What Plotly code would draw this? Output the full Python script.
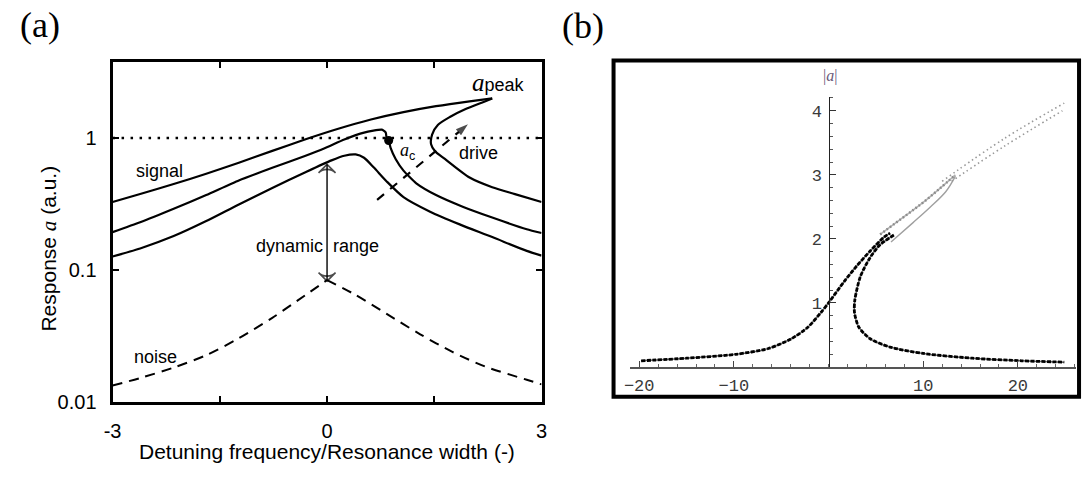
import plotly.graph_objects as go

W, H = 1088, 477


def px(x):
    return x / W


def py(y):
    return 1 - y / H


# ---------------- Panel (a) data ----------------
sig_hi_up_x = [-3.0, -2.614, -2.145, -1.690, -1.234, -0.766, -0.310, 0.145, 0.614, 1.069, 1.524, 1.993, 2.310]
sig_hi_up_y = [0.327, 0.376, 0.447, 0.535, 0.649, 0.798, 0.973, 1.169, 1.380, 1.570, 1.742, 1.897, 1.995]
sig_hi_dn_x = [2.310, 2.172, 1.938, 1.717, 1.552, 1.469, 1.455, 1.510, 1.648, 1.993, 2.310, 2.628, 3.0]
sig_hi_dn_y = [1.995, 1.862, 1.656, 1.442, 1.259, 1.062, 0.895, 0.794, 0.693, 0.501, 0.423, 0.375, 0.327]

sig_mid_x = [-3.0, -2.614, -2.145, -1.690, -1.234, -0.766, -0.310, -0.034, 0.241, 0.517, 0.766, 0.821, 0.834,
             0.862, 0.890, 0.959, 1.069, 1.248, 1.524, 1.897, 2.310, 2.793, 3.0]
sig_mid_y = [0.193, 0.229, 0.290, 0.369, 0.476, 0.594, 0.730, 0.836, 0.975, 1.099, 1.156, 1.099, 0.991,
             0.957, 0.836, 0.693, 0.565, 0.453, 0.369, 0.301, 0.249, 0.203, 0.190]

sig_lo_x = [-3.0, -2.614, -2.145, -1.690, -1.234, -0.766, -0.310, 0.062, 0.241, 0.400, 0.517, 0.655,
            0.834, 1.069, 1.441, 1.855, 2.310, 2.793, 3.0]
sig_lo_y = [0.126, 0.145, 0.180, 0.234, 0.313, 0.417, 0.547, 0.676, 0.733, 0.750, 0.708, 0.596,
            0.468, 0.356, 0.276, 0.221, 0.177, 0.139, 0.128]

noise_l_x = [-3.0, -2.614, -2.145, -1.690, -1.234, -0.766, -0.310, 0.0]
noise_l_y = [0.01324, 0.01507, 0.01811, 0.02249, 0.03020, 0.04315, 0.06383, 0.08356]
noise_r_x = [0.0, 0.379, 0.834, 1.303, 1.759, 2.214, 2.793, 3.0]
noise_r_y = [0.08356, 0.06531, 0.04624, 0.03236, 0.02371, 0.01841, 0.01462, 0.01349]

ref_x = [-3.0, 3.0]
ref_y = [1.0, 1.0]

crit_x = [0.862]
crit_y = [0.957]

a_ticks = [0.01, 0.1, 1]
a_ticktext = ["0.01", "0.1", "1"]
a_xticks = [-3, 0, 3]
a_xticktext = ["-3", "0", "3"]
a_xminor = [-1.5, 1.5]

# ---------------- Panel (b) data ----------------
blk_up_x = [-19.8, -15.0, -9.8, -6.35, -3.93, -2.19, -0.8, 0.0, 1.63, 3.0, 4.4, 5.8, 6.5]
blk_up_y = [0.096, 0.136, 0.197, 0.288, 0.44, 0.62, 0.85, 1.0, 1.33, 1.58, 1.81, 2.02, 2.09]
blk_lo_x = [6.9, 5.45, 4.4, 3.36, 2.78, 2.74, 3.2, 4.4, 6.5, 10.0, 15.2, 20.4, 24.9]
blk_lo_y = [2.06, 1.91, 1.71, 1.41, 1.05, 0.85, 0.62, 0.44, 0.31, 0.21, 0.136, 0.096, 0.075]

gry_up_x = [5.45, 8.2, 10.0, 11.7, 13.4]
gry_up_y = [2.07, 2.37, 2.57, 2.78, 3.0]
gry_lo_x = [6.6, 8.9, 10.7, 12.4, 13.4]
gry_lo_y = [1.95, 2.25, 2.49, 2.74, 2.98]

dot_up_x = [12.0, 18.6, 24.9]
dot_up_y = [2.90, 3.57, 4.12]
dot_lo_x = [13.0, 18.6, 24.7]
dot_lo_y = [2.90, 3.45, 4.00]

b_xticks = [-20, -10, 10, 20]
b_yticks = [1, 2, 3, 4]
b_xminor = list(range(-20, 27, 2))
b_yminor = [round(0.2 * i, 1) for i in range(1, 22)]

fig = go.Figure()

line_a = dict(color="black", width=2.2)
fig.add_trace(go.Scatter(x=sig_hi_up_x, y=sig_hi_up_y, mode="lines", line=dict(**line_a, shape="spline", smoothing=0.7)))
fig.add_trace(go.Scatter(x=sig_hi_dn_x, y=sig_hi_dn_y, mode="lines", line=dict(**line_a, shape="spline", smoothing=0.7)))
fig.add_trace(go.Scatter(x=sig_mid_x, y=sig_mid_y, mode="lines", line=dict(**line_a, shape="spline", smoothing=0.5)))
fig.add_trace(go.Scatter(x=sig_lo_x, y=sig_lo_y, mode="lines", line=dict(**line_a, shape="spline", smoothing=0.7)))
for nx, ny in ((noise_l_x, noise_l_y), (noise_r_x, noise_r_y)):
    fig.add_trace(go.Scatter(x=nx, y=ny, mode="lines",
                             line=dict(color="black", width=2, dash="10px,7px", shape="spline", smoothing=0.8)))
fig.add_trace(go.Scatter(x=ref_x, y=ref_y, mode="lines",
                         line=dict(color="black", width=2.5, dash="2.5px,6.5px")))
fig.add_trace(go.Scatter(x=crit_x, y=crit_y, mode="markers", marker=dict(color="black", size=9)))

# dynamic-range double arrow (two halves, open arrow marker at the tip)
dr_mid, dr_top, dr_bot = 0.23, 0.63, 0.082
for tip in (dr_top, dr_bot):
    fig.add_trace(go.Scatter(x=[0, 0], y=[dr_mid, tip], mode="lines+markers",
                             line=dict(color="black", width=1.4),
                             marker=dict(symbol="arrow-wide-open", size=[0, 12], angleref="previous",
                                         color="black", line=dict(width=1.6, color="black"))))

# drive arrow (dashed with head)
drive_x = [0.70, 1.97]
drive_y = [0.339, 1.27]
fig.add_trace(go.Scatter(x=drive_x, y=drive_y, mode="lines+markers",
                         line=dict(color="black", width=2.2, dash="9px,8px"),
                         marker=dict(symbol="arrow", size=[0, 13], angleref="previous", color="black",
                                     line=dict(width=0))))

# panel (b) traces
fig.add_trace(go.Scatter(x=gry_up_x, y=gry_up_y, mode="lines", xaxis="x2", yaxis="y2",
                         line=dict(color="#b0b0b0", width=1.6, shape="spline")))
fig.add_trace(go.Scatter(x=gry_up_x, y=gry_up_y, mode="lines", xaxis="x2", yaxis="y2",
                         line=dict(color="#8a8a8a", width=2.5, dash="1.5px,2.5px", shape="spline")))
fig.add_trace(go.Scatter(x=gry_lo_x, y=gry_lo_y, mode="lines", xaxis="x2", yaxis="y2",
                         line=dict(color="#a0a0a0", width=1.4, shape="spline")))
fig.add_trace(go.Scatter(x=dot_up_x, y=dot_up_y, mode="lines", xaxis="x2", yaxis="y2",
                         line=dict(color="#999999", width=1.6, dash="1.5px,3px", shape="spline")))
fig.add_trace(go.Scatter(x=dot_lo_x, y=dot_lo_y, mode="lines", xaxis="x2", yaxis="y2",
                         line=dict(color="#999999", width=1.6, dash="1.5px,3px", shape="spline")))
for bx, by in ((blk_up_x, blk_up_y), (blk_lo_x, blk_lo_y)):
    fig.add_trace(go.Scatter(x=bx, y=by, mode="lines", xaxis="x2", yaxis="y2",
                             line=dict(color="#666666", width=1.5, shape="spline", smoothing=0.7)))
    fig.add_trace(go.Scatter(x=bx, y=by, mode="lines", xaxis="x2", yaxis="y2",
                             line=dict(color="black", width=2.8, dash="4px,1.5px", shape="spline", smoothing=0.7)))

tickfont_a = dict(family="Liberation Sans", size=20, color="black")
tickfont_b = dict(family="Liberation Mono", size=17, color="#3a3a3a")

fig.update_layout(
    width=W, height=H, margin=dict(l=0, r=0, t=0, b=0),
    paper_bgcolor="white", plot_bgcolor="white", showlegend=False,
    font=dict(family="Liberation Sans", color="black"),
    xaxis=dict(domain=[px(105), px(540)], range=[-3, 3], tickvals=a_xticks, ticktext=a_xticktext,
               ticks="inside", ticklen=6, tickwidth=2, tickcolor="black", showline=True, linewidth=3,
               linecolor="black", mirror="ticks", showgrid=False, zeroline=False, tickfont=tickfont_a,
               minor=dict(tickvals=a_xminor, ticks="inside", ticklen=6, tickwidth=2, tickcolor="black",
                          showgrid=False),
               ticklabelstandoff=9, anchor="y"),
    yaxis=dict(domain=[py(411), py(63)], type="log", range=[-2, 0.58], tickvals=a_ticks, ticktext=a_ticktext,
               ticks="inside", ticklen=6, tickwidth=2, tickcolor="black", showline=True, linewidth=3,
               linecolor="black", mirror="ticks", showgrid=False, zeroline=False, tickfont=tickfont_a,
               ticklabelstandoff=9, anchor="x"),
    xaxis2=dict(domain=[px(630), px(1082)], range=[-20.94, 26.15], tickvals=b_xticks,
                ticks="inside", ticklen=6, tickwidth=1, tickcolor="#444", showline=True, linewidth=1.5,
                linecolor="#555", showgrid=False, zeroline=False, tickfont=tickfont_b, anchor="y2",
                minor=dict(tickvals=b_xminor, ticks="inside", ticklen=3, tickcolor="#666", showgrid=False),
                ticklabelstandoff=2),
    yaxis2=dict(domain=[py(375.6), py(99)], range=[0, 4.22], tickvals=b_yticks,
                ticks="inside", ticklen=6, tickwidth=1, tickcolor="#333", showline=True, linewidth=1.3,
                linecolor="#222", showgrid=False, zeroline=False, tickfont=tickfont_b, anchor="free",
                position=px(831),
                minor=dict(tickvals=b_yminor, ticks="inside", ticklen=3, tickcolor="#555", showgrid=False),
                ticklabelstandoff=3),
)

# frame of panel (b)
fig.add_shape(type="rect", xref="paper", yref="paper", x0=px(613), x1=px(1085), y0=py(406), y1=py(62),
              line=dict(color="black", width=4), fillcolor="rgba(0,0,0,0)")

ann = []


def text_ann(t, x, y, size=18, family="Liberation Sans", xanchor="center", angle=0, color="black"):
    ann.append(dict(text=t, x=px(x), y=py(y), xref="paper", yref="paper", showarrow=False,
                    xanchor=xanchor, yanchor="middle", textangle=angle,
                    font=dict(family=family, size=size, color=color)))


text_ann("(a)", 31, 26, size=36, family="Liberation Serif")
text_ann("(b)", 582, 27, size=36, family="Liberation Serif")
text_ann("Detuning frequency/Resonance width (-)", 322, 462, size=21)
text_ann("Response <span style='font-family:Liberation Serif;font-style:italic'>a</span> (a.u.)",
         41, 254, size=21, angle=-90)
text_ann("signal", 153, 175)
text_ann("noise", 149, 365)
text_ann("drive", 476, 157)
text_ann("dynamic", 320, 252, xanchor="right")
text_ann("range", 326, 252, xanchor="left")
text_ann("<span style='font-family:Liberation Serif;font-style:italic;font-size:25px'>a</span>peak", 496, 84)
text_ann("<span style='font-family:Liberation Serif;font-style:italic'>a</span><sub>c</sub>", 404, 155)
text_ann("|<span style='font-style:italic'>a</span>|", 832, 78, size=16, family="Liberation Serif", color="#6a5a7a")

fig.update_layout(annotations=ann)
fig.write_html("out.html")
